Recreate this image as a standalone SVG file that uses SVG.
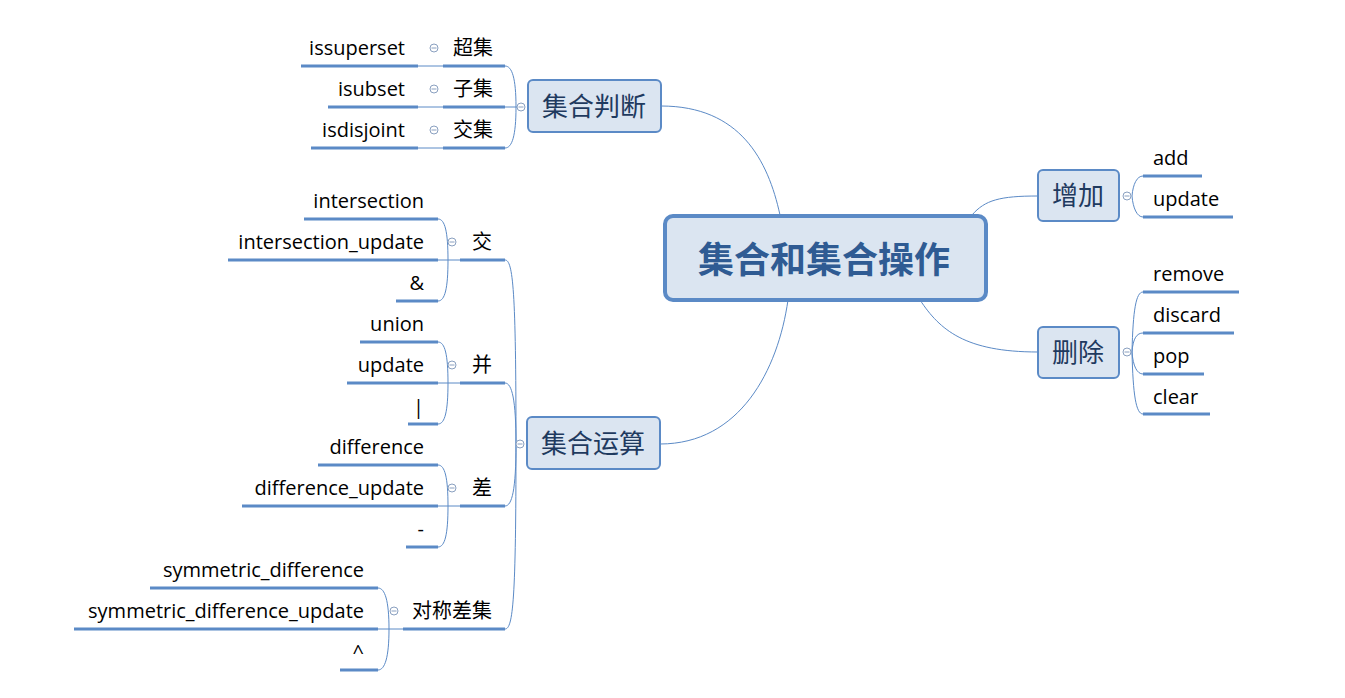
<svg xmlns="http://www.w3.org/2000/svg" width="1345" height="698" viewBox="0 0 1345 698">
<style>
.leaf{font-family:"Open Sans","Noto Sans CJK SC",sans-serif;font-size:20px;fill:#000}
.cj{font-family:"Noto Sans CJK SC",sans-serif;font-size:20px;fill:#000}
.r{text-anchor:end}
.nt{font-family:"Noto Sans CJK SC",sans-serif;font-size:26px;fill:#1f3a5f;text-anchor:middle}
.mt{font-family:"Noto Sans CJK SC",sans-serif;font-size:36px;font-weight:bold;fill:#2f5b93;text-anchor:middle}
.box{fill:#dbe5f1;stroke:#5b8ac6;stroke-width:2}
.mbox{fill:#dbe5f1;stroke:#5b8ac6;stroke-width:4}
.ul{stroke:#5b8ac6;stroke-width:3;fill:none}
.ln{stroke:#5b8ac6;stroke-width:1;fill:none}
.cc{fill:#fff;stroke:#8aa0c0;stroke-width:1}
.cm{stroke:#8aa0c0;stroke-width:1}
</style>
<rect width="1345" height="698" fill="#fff"/>
<g id="connectors">
<path class="ln" d="M661,106 C740,106 768,160 780,215"/>
<path class="ln" d="M660,444 C740,444 778,370 788,300"/>
<path class="ln" d="M1038,196 C1000,196 985,200 972,215"/>
<path class="ln" d="M1038,352 C965,352 940,330 920,300"/>
<path class="ln" d="M505,66 C512,66 516,78 516,107 M505,148 C512,148 516,136 516,107 M505,107 L517,107"/>
<path class="ln" d="M418,66 L443,66 M418,107 L443,107 M418,148 L443,148"/>
<path class="ln" d="M505,260 C513,260 516,290 516,444 M505,383 C512,383 516,400 516,444 M505,506 C512,506 516,490 516,444 M505,629 C513,629 516,600 516,444"/>
<path class="ln" d="M438,219 C445,219 448,232 448,260 M438,301 C445,301 448,288 448,260 M438,260 L460,260"/>
<path class="ln" d="M438,342 C445,342 448,355 448,383 M438,424 C445,424 448,411 448,383 M438,383 L460,383"/>
<path class="ln" d="M438,465 C445,465 448,478 448,506 M438,547 C445,547 448,534 448,506 M438,506 L460,506"/>
<path class="ln" d="M378,588 C385,588 389,601 389,629 M378,670 C385,670 389,657 389,629 M378,629 L403,629"/>
<path class="ln" d="M1143,176 C1137,176 1133,184 1132,196 M1143,217 C1137,217 1133,208 1132,196"/>
<path class="ln" d="M1143,292 C1136,292 1133,310 1132,352 M1143,333 C1137,333 1133,338 1132,352 M1143,374 C1137,374 1133,366 1132,352 M1143,414 C1136,414 1133,395 1132,352"/>
</g>
<g id="center">
<rect class="mbox" x="665" y="216" width="321" height="84" rx="8"/>
<text class="mt" x="824" y="273">集合和集合操作</text>
</g>
<g id="n-panduan">
<rect class="box" x="528" y="80" width="133" height="52" rx="5"/>
<text class="nt" x="594" y="116">集合判断</text>
<circle class="cc" cx="521" cy="107" r="4"/><path class="cm" d="M518.5,107 H523.5"/>
</g>
<g id="n-chaoji">
<path class="ul" d="M443,66 H505"/><text class="cj" x="453" y="55">超集</text>
<circle class="cc" cx="434" cy="48" r="4"/><path class="cm" d="M431.5,48 H436.5"/>
<path class="ul" d="M301,66 H418"/><text class="leaf r" x="405" y="55">issuperset</text>
</g>
<g id="n-ziji">
<path class="ul" d="M443,107 H505"/><text class="cj" x="453" y="96">子集</text>
<circle class="cc" cx="434" cy="89" r="4"/><path class="cm" d="M431.5,89 H436.5"/>
<path class="ul" d="M328,107 H418"/><text class="leaf r" x="405" y="96">isubset</text>
</g>
<g id="n-jiaoji">
<path class="ul" d="M443,148 H505"/><text class="cj" x="453" y="137">交集</text>
<circle class="cc" cx="434" cy="130" r="4"/><path class="cm" d="M431.5,130 H436.5"/>
<path class="ul" d="M311,148 H418"/><text class="leaf r" x="405" y="137">isdisjoint</text>
</g>
<g id="n-yunsuan">
<rect class="box" x="527" y="417" width="133" height="52" rx="5"/>
<text class="nt" x="593" y="453">集合运算</text>
<circle class="cc" cx="520" cy="444" r="4"/><path class="cm" d="M517.5,444 H522.5"/>
</g>
<g id="n-jiao">
<path class="ul" d="M460,260 H505"/><text class="cj" x="472" y="249">交</text>
<circle class="cc" cx="452" cy="242" r="4"/><path class="cm" d="M449.5,242 H454.5"/>
<path class="ul" d="M304,219 H438"/><text class="leaf r" x="424" y="208">intersection</text>
<path class="ul" d="M228,260 H438"/><text class="leaf r" x="424" y="249">intersection_update</text>
<path class="ul" d="M396,301 H438"/><text class="leaf r" x="424" y="290">&amp;</text>
</g>
<g id="n-bing">
<path class="ul" d="M460,383 H505"/><text class="cj" x="472" y="372">并</text>
<circle class="cc" cx="452" cy="365" r="4"/><path class="cm" d="M449.5,365 H454.5"/>
<path class="ul" d="M360,342 H438"/><text class="leaf r" x="424" y="331">union</text>
<path class="ul" d="M347,383 H438"/><text class="leaf r" x="424" y="372">update</text>
<path class="ul" d="M408,424 H438"/><text class="leaf r" x="424" y="414">|</text>
</g>
<g id="n-cha">
<path class="ul" d="M460,506 H505"/><text class="cj" x="472" y="495">差</text>
<circle class="cc" cx="452" cy="488" r="4"/><path class="cm" d="M449.5,488 H454.5"/>
<path class="ul" d="M318,465 H438"/><text class="leaf r" x="424" y="454">difference</text>
<path class="ul" d="M242,506 H438"/><text class="leaf r" x="424" y="495">difference_update</text>
<path class="ul" d="M406,547 H438"/><text class="leaf r" x="424" y="536">-</text>
</g>
<g id="n-duichen">
<path class="ul" d="M403,629 H505"/><text class="cj" x="412" y="618">对称差集</text>
<circle class="cc" cx="394" cy="611" r="4"/><path class="cm" d="M391.5,611 H396.5"/>
<path class="ul" d="M150,588 H378"/><text class="leaf r" x="364" y="577">symmetric_difference</text>
<path class="ul" d="M74,629 H378"/><text class="leaf r" x="364" y="618">symmetric_difference_update</text>
<path class="ul" d="M340,670 H378"/><text class="leaf r" x="364" y="659">^</text>
</g>
<g id="n-zengjia">
<rect class="box" x="1038" y="170" width="81" height="51" rx="5"/>
<text class="nt" x="1078" y="205">增加</text>
<circle class="cc" cx="1127" cy="196" r="4"/><path class="cm" d="M1124.5,196 H1129.5"/>
<path class="ul" d="M1143,176 H1202"/><text class="leaf" x="1153" y="165">add</text>
<path class="ul" d="M1143,217 H1233"/><text class="leaf" x="1153" y="206">update</text>
</g>
<g id="n-shanchu">
<rect class="box" x="1038" y="327" width="81" height="51" rx="5"/>
<text class="nt" x="1078" y="362">删除</text>
<circle class="cc" cx="1127" cy="352" r="4"/><path class="cm" d="M1124.5,352 H1129.5"/>
<path class="ul" d="M1143,292 H1239"/><text class="leaf" x="1153" y="281">remove</text>
<path class="ul" d="M1143,333 H1234"/><text class="leaf" x="1153" y="322">discard</text>
<path class="ul" d="M1143,374 H1204"/><text class="leaf" x="1153" y="363">pop</text>
<path class="ul" d="M1143,414 H1210"/><text class="leaf" x="1153" y="404">clear</text>
</g>
</svg>
